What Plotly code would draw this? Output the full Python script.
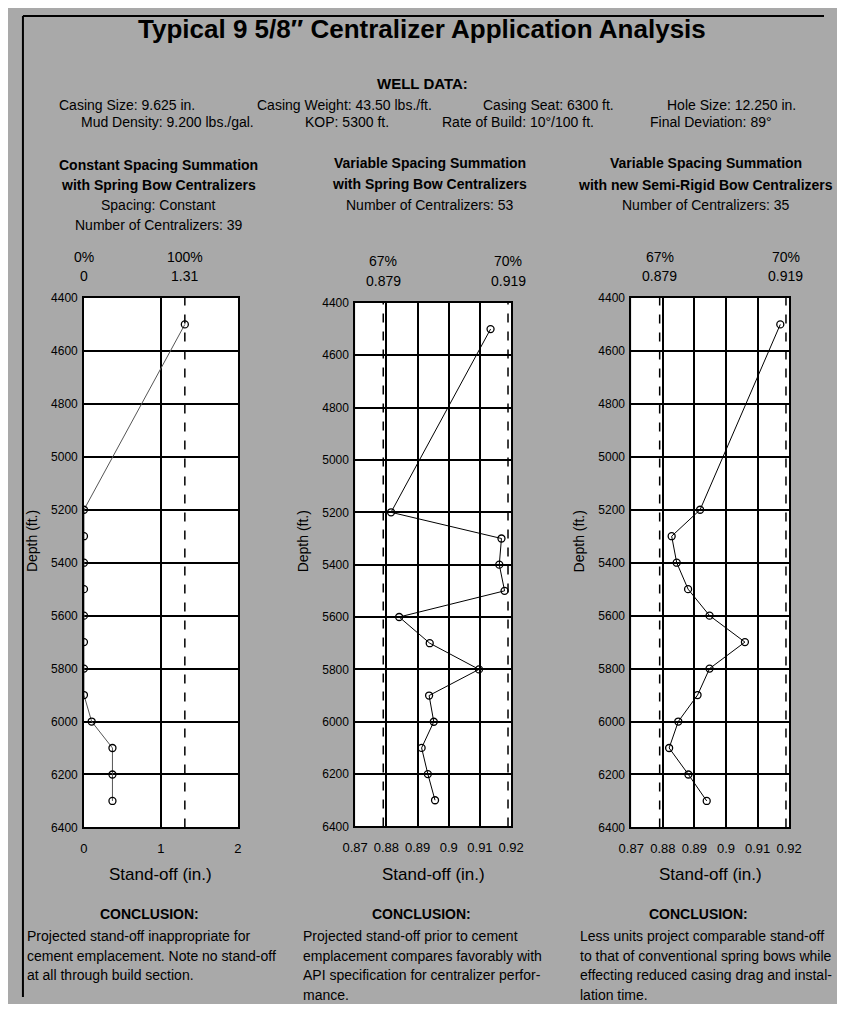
import plotly.graph_objects as go

# ---- data ----
depth_ft = [4500, 5200, 5300, 5400, 5500, 5600, 5700, 5800, 5900, 6000, 6100, 6200, 6300]
standoff_constant = [1.31, 0, 0, 0, 0, 0, 0, 0, 0, 0.10, 0.37, 0.37, 0.37]
standoff_var_spring = [0.9134, 0.8815, 0.9169, 0.9162, 0.9179, 0.8841, 0.8939,
                       0.9097, 0.8937, 0.8952, 0.8913, 0.8933, 0.8956]
standoff_var_rigid = [0.9172, 0.8918, 0.8828, 0.8844, 0.8880, 0.8948, 0.9060,
                      0.8948, 0.8910, 0.8849, 0.8820, 0.8881, 0.8939]

depth_ticks = [4400, 4600, 4800, 5000, 5200, 5400, 5600, 5800, 6000, 6200, 6400]
wide_ticks = [0, 1, 2]
narrow_ticks = [0.87, 0.88, 0.89, 0.90, 0.91, 0.92]
narrow_tick_text = ["0.87", "0.88", "0.89", "0.9", "0.91", "0.92"]

spec_pct_constant = ["0%", "100%"]
spec_val_constant = [0, 1.31]
spec_pct_variable = ["67%", "70%"]
spec_val_variable = [0.879, 0.919]

title_text = "Typical 9 5/8\u2033 Centralizer Application Analysis"
well_line1 = ["Casing Size: 9.625 in.", "Casing Weight: 43.50 lbs./ft.",
              "Casing Seat: 6300 ft.", "Hole Size: 12.250 in."]
well_line2 = ["Mud Density: 9.200 lbs./gal.", "KOP: 5300 ft.",
              "Rate of Build: 10\u00b0/100 ft.", "Final Deviation: 89\u00b0"]

headers = [
    ["Constant Spacing Summation", "with Spring Bow Centralizers"],
    ["Variable Spacing Summation", "with Spring Bow Centralizers"],
    ["Variable Spacing Summation", "with new Semi-Rigid Bow Centralizers"],
]
subheaders = [
    ["Spacing: Constant", "Number of Centralizers: 39"],
    ["Number of Centralizers: 53"],
    ["Number of Centralizers: 35"],
]
conclusions = [
    ["Projected stand-off inappropriate for",
     "cement emplacement. Note no stand-off",
     "at all through build section."],
    ["Projected stand-off prior to cement",
     "emplacement compares favorably with",
     "API specification for centralizer perfor-",
     "mance."],
    ["Less units project comparable stand-off",
     "to that of conventional spring bows while",
     "effecting reduced casing drag and instal-",
     "lation time."],
]

# ---- layout helpers ----
# the page body keeps an 8px margin on every side, so the figure is drawn
# 16px smaller and reference pixel positions are shifted by that margin
OFF = 8
FW, FH = 845 - 2 * OFF, 1012 - 2 * OFF
BG = "#a9a9a9"
SANS = "Liberation Sans, Arial, sans-serif"


def fx(x):
    return (x - OFF) / FW


def fy(y):
    return 1 - (y - OFF) / FH


# plot boxes in reference pixels: x0, x1, y_top, y_bottom
boxes = [(73, 232, 295, 832), (353, 514, 300, 831), (638, 801, 295, 832)]
header_x = [150, 430, 715]
header_y = [(160, 180, 201, 221), (158, 179, 201), (158, 180, 201)]
spec_y = [(253, 273), (258, 278), (253, 273)]
conclusion_x = [12, 297, 583]

series = [standoff_constant, standoff_var_spring, standoff_var_rigid]
line_colors = ["#555555", "black", "black"]

fig = go.Figure()
annotations = []
shapes = []


def note(x, y, text, size=14, xanchor="center", xref="paper", **kw):
    annotations.append(dict(x=x, y=y, xref=xref, yref="paper", text=text,
                            showarrow=False, xanchor=xanchor, yanchor="middle",
                            font=dict(family=SANS, size=size, color="black"), **kw))


for i, (x0, x1, yt, yb) in enumerate(boxes):
    n = "" if i == 0 else str(i + 1)
    xa, ya = "x" + n, "y" + n
    fig.add_trace(
        go.Scatter(
            x=series[i],
            y=depth_ft,
            xaxis=xa,
            yaxis=ya,
            mode="lines+markers",
            line=dict(color=line_colors[i], width=1),
            marker=dict(symbol="circle-open", size=7, color="black",
                        line=dict(width=1.3, color="black")),
            showlegend=False,
        )
    )
    if i == 0:
        xr, tv, tt = [0, 2], wide_ticks, [str(t) for t in wide_ticks]
        spec_vals, spec_pcts = spec_val_constant, spec_pct_constant
        dashed = [spec_val_constant[1]]
    else:
        xr, tv, tt = [0.87, 0.92], narrow_ticks, narrow_tick_text
        spec_vals, spec_pcts = spec_val_variable, spec_pct_variable
        dashed = spec_val_variable

    fig.update_layout({
        "xaxis" + n: dict(
            domain=[fx(x0), fx(x1)], anchor=ya, range=xr,
            tickvals=tv, ticktext=tt, showgrid=True, gridcolor="black",
            gridwidth=1.6, showline=True, mirror=True, linecolor="black",
            linewidth=1.6, zeroline=False, ticks="outside", ticklen=8,
            tickcolor="rgba(0,0,0,0)", tickfont=dict(family=SANS, size=13, color="black"),
        ),
        "yaxis" + n: dict(
            domain=[fy(yb), fy(yt)], anchor=xa, range=[6400, 4400],
            tickvals=depth_ticks, showgrid=True, gridcolor="black",
            gridwidth=1.6, showline=True, mirror=True, linecolor="black",
            linewidth=1.6, zeroline=False, ticks="outside", ticklen=2,
            tickcolor="rgba(0,0,0,0)", tickfont=dict(family=SANS, size=12, color="black"),
        ),
    })

    for v in dashed:
        shapes.append(dict(type="line", xref=xa, yref=ya + " domain", x0=v, x1=v,
                           y0=0, y1=1, line=dict(color="black", width=1.5, dash="dash")))

    # spec labels above the plot
    for v, p in zip(spec_vals, spec_pcts):
        note(v, fy(spec_y[i][0]), p, xref=xa)
        note(v, fy(spec_y[i][1]), str(v) if v != 0 else "0", xref=xa)

    cx = (x0 + x1) / 2
    lines = [(t, True) for t in headers[i]] + [(t, False) for t in subheaders[i]]
    for (t, bold), yy in zip(lines, header_y[i]):
        note(fx(header_x[i]), fy(yy), f"<b>{t}</b>" if bold else t)

    # axis titles
    note(fx(cx), fy(880), "Stand-off (in.)", size=17)
    note(fx(x0 - 53), fy(542), "Depth (ft.)", size=14, textangle=-90)

    # conclusion
    note(fx(cx - 12), fy(920), "<b>CONCLUSION:</b>")
    for k, t in enumerate(conclusions[i]):
        note(fx(conclusion_x[i]), fy(942 + 20 * k), t, size=14, xanchor="left")

# title and well data
note(fx(422), fy(22), f"<b>{title_text}</b>", size=26)
note(fx(422), fy(77), "<b>WELL DATA:</b>", size=15)
for t, x in zip(well_line1, [45, 250, 483, 673]):
    note(fx(x), fy(99), t, xanchor="left")
for t, x in zip(well_line2, [68, 299, 441, 655]):
    note(fx(x), fy(117), t, xanchor="left")

# frame lines on left and top
shapes.append(dict(type="line", xref="paper", yref="paper", x0=fx(10), x1=fx(10),
                   y0=0, y1=fy(9), line=dict(color="black", width=2)))
shapes.append(dict(type="line", xref="paper", yref="paper", x0=fx(10), x1=1,
                   y0=fy(9), y1=fy(9), line=dict(color="black", width=2)))

fig.update_layout(
    width=FW, height=FH,
    margin=dict(l=0, r=0, t=0, b=0),
    paper_bgcolor=BG, plot_bgcolor="white",
    showlegend=False,
    annotations=annotations,
    shapes=shapes,
)

fig.write_html("out.html")
